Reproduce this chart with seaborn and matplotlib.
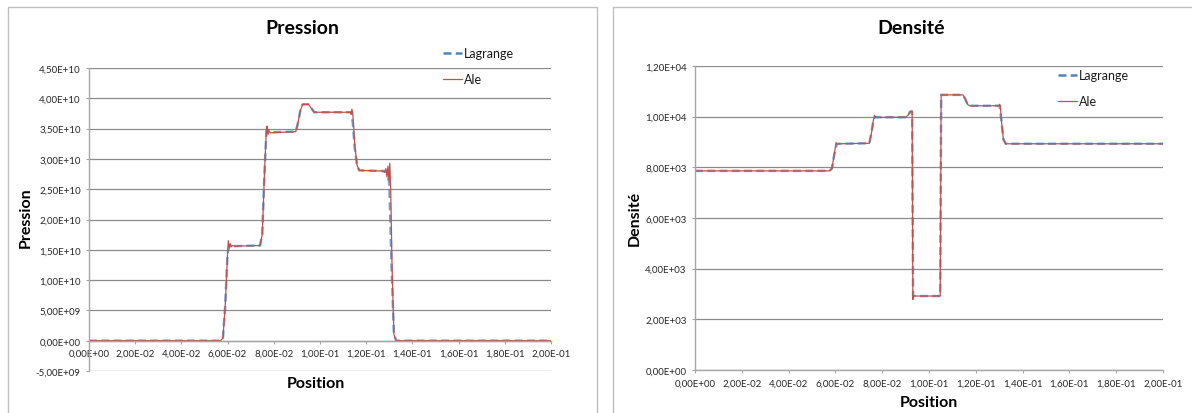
import matplotlib
matplotlib.use("Agg")
import matplotlib.pyplot as plt
import matplotlib.ticker as mticker
from matplotlib.patches import Rectangle
import seaborn as sns
import pandas as pd

# ---------------- data ----------------
# Pression (Pa), Lagrange
p_lag_x = [0.0, 0.0570, 0.0580, 0.0590, 0.0600, 0.0608, 0.0620, 0.0740, 0.0750, 0.0760,
           0.0768, 0.0780, 0.0895, 0.0905, 0.0915, 0.0925, 0.0950, 0.0960, 0.0975, 0.1135,
           0.1142, 0.1150, 0.1160, 0.1170, 0.1280, 0.1290, 0.1300, 0.1310, 0.1320, 0.1330, 0.2]
p_lag_y = [0.0, 0.0, 0.05e10, 0.6e10, 1.45e10, 1.57e10, 1.56e10, 1.57e10, 1.75e10, 2.8e10,
           3.45e10, 3.44e10, 3.45e10, 3.6e10, 3.8e10, 3.9e10, 3.9e10, 3.85e10, 3.77e10, 3.77e10,
           3.6e10, 3.2e10, 2.9e10, 2.81e10, 2.80e10, 2.78e10, 2.6e10, 1.2e10, 0.1e10, 0.0, 0.0]
# Pression (Pa), Ale
p_ale_x = [0.0, 0.0570, 0.0580, 0.0590, 0.0600, 0.0603, 0.0608, 0.0612, 0.0616, 0.0620,
           0.0630, 0.0740, 0.0750, 0.0760, 0.0768, 0.0771, 0.0775, 0.0779, 0.0785, 0.0895,
           0.0905, 0.0915, 0.0925, 0.0950, 0.0960, 0.0975, 0.1130, 0.1135, 0.1138, 0.1142,
           0.1150, 0.1160, 0.1170, 0.1270, 0.1280, 0.1285, 0.1290, 0.1294, 0.1298, 0.1302,
           0.1306, 0.1312, 0.1320, 0.1330, 0.2]
p_ale_y = [0.0, 0.0, 0.05e10, 0.6e10, 1.45e10, 1.65e10, 1.53e10, 1.60e10, 1.55e10, 1.57e10,
           1.56e10, 1.57e10, 1.75e10, 2.8e10, 3.50e10, 3.54e10, 3.40e10, 3.47e10, 3.43e10, 3.45e10,
           3.6e10, 3.8e10, 3.9e10, 3.9e10, 3.85e10, 3.77e10, 3.77e10, 3.74e10, 3.82e10, 3.75e10,
           3.25e10, 2.9e10, 2.81e10, 2.80e10, 2.78e10, 2.84e10, 2.70e10, 2.88e10, 2.65e10, 2.93e10,
           2.5e10, 1.2e10, 0.1e10, 0.0, 0.0]

# Densite, Lagrange
d_lag_x = [0.0, 0.0575, 0.0585, 0.0595, 0.0605, 0.0615, 0.0745, 0.0755, 0.0763, 0.0770,
           0.0900, 0.0910, 0.0920, 0.0928, 0.0932, 0.1048, 0.1052, 0.1145, 0.1155, 0.1165,
           0.1175, 0.1302, 0.1310, 0.1318, 0.1328, 0.2]
d_lag_y = [7860, 7860, 7950, 8500, 8900, 8930, 8950, 9400, 9900, 9980,
           9980, 10050, 10200, 10200, 2920, 2920, 10860, 10860, 10700, 10480,
           10430, 10430, 9800, 9100, 8930, 8930]
# Densite, Ale
d_ale_x = [0.0, 0.0575, 0.0585, 0.0595, 0.0603, 0.0608, 0.0615, 0.0745, 0.0755, 0.0763,
           0.0767, 0.0772, 0.0900, 0.0910, 0.0920, 0.0928, 0.0931, 0.0934, 0.0940, 0.1048,
           0.1052, 0.1145, 0.1155, 0.1165, 0.1175, 0.1298, 0.1302, 0.1305, 0.1310, 0.1318,
           0.1328, 0.2]
d_ale_y = [7860, 7860, 7950, 8500, 8980, 8920, 8930, 8950, 9400, 9900,
           10050, 9970, 9980, 10050, 10200, 10220, 2780, 2940, 2920, 2920,
           10860, 10860, 10700, 10480, 10430, 10430, 10490, 10400, 9800, 9100,
           8930, 8930]

p_yticks = [-5e9, 0, 5e9, 1e10, 1.5e10, 2e10, 2.5e10, 3e10, 3.5e10, 4e10, 4.5e10]
d_yticks = [0, 2000, 4000, 6000, 8000, 10000, 12000]
x_ticks = [0, 0.02, 0.04, 0.06, 0.08, 0.10, 0.12, 0.14, 0.16, 0.18, 0.20]

series_names = ["Lagrange", "Ale"]

# ---------------- style ----------------
sns.set_theme(style="white")
plt.rcParams['font.family'] = ['Lato', 'DejaVu Sans']

W, H = 1192, 414
fig = plt.figure(figsize=(W / 100, H / 100), dpi=100)

BLUE = "#4F81BD"
RED = "#C0504D"
GRID = "#8C8C8C"


def fx(px):
    return px / W


def fy(py):
    return 1 - py / H


def fmt(v, pos):
    return f"{v:.2E}".replace(".", ",")


# panel borders
fig.patches.append(Rectangle((fx(8), fy(420)), fx(597 - 8), (420 - 8) / H,
                             transform=fig.transFigure, fill=False,
                             edgecolor="#BFBFBF", lw=1.0))
fig.patches.append(Rectangle((fx(613), fy(420)), fx(1200 - 613), (420 - 8) / H,
                             transform=fig.transFigure, fill=False,
                             edgecolor="#BFBFBF", lw=1.0))

ax1 = fig.add_axes([fx(89), fy(372), fx(551 - 89), (372 - 69) / H])
ax2 = fig.add_axes([fx(695), fy(371), fx(1163 - 695), (371 - 67) / H])


def draw(ax, lx, ly, axx, axy):
    dfl = pd.DataFrame({"x": lx, "y": ly})
    dfa = pd.DataFrame({"x": axx, "y": axy})
    sns.lineplot(data=dfl, x="x", y="y", ax=ax, color=BLUE, lw=1.8,
                 linestyle=(0, (3.2, 1.7)), label=series_names[0],
                 estimator=None, sort=False, alpha=0.75)
    sns.lineplot(data=dfa, x="x", y="y", ax=ax, color=RED, lw=0.9,
                 label=series_names[1], estimator=None, sort=False)


draw(ax1, p_lag_x, p_lag_y, p_ale_x, p_ale_y)
draw(ax2, d_lag_x, d_lag_y, d_ale_x, d_ale_y)

for ax, yt in [(ax1, p_yticks), (ax2, d_yticks)]:
    ax.set_xlim(0, 0.2)
    ax.set_ylim(yt[0], yt[-1])
    ax.set_xticks(x_ticks)
    ax.set_yticks(yt)
    ax.xaxis.set_major_formatter(mticker.FuncFormatter(fmt))
    ax.yaxis.set_major_formatter(mticker.FuncFormatter(fmt))
    ax.grid(axis="y", color=GRID, lw=0.9)
    ax.grid(axis="x", visible=False)
    ax.set_axisbelow(True)
    for s in ["top", "right"]:
        ax.spines[s].set_visible(False)
    for s in ["left", "bottom"]:
        ax.spines[s].set_color("#A6A6A6")
        ax.spines[s].set_linewidth(1.0)
    ax.spines["bottom"].set_position(("data", 0))
    ax.tick_params(axis="both", which="major", direction="out", length=2.5,
                   width=0.8, color="#A6A6A6", labelsize=7, labelcolor="#262626",
                   pad=3.5, bottom=True, left=True)
    ax.set_xlabel("")
    ax.set_ylabel("")
    ax.set_facecolor("white")

leg1 = ax1.legend(loc="upper left", bbox_to_anchor=(fx(443), fy(48)),
                  bbox_transform=fig.transFigure, frameon=False, fontsize=9,
                  handlelength=1.5, handletextpad=0.2, labelspacing=1.15,
                  borderaxespad=0, borderpad=0)
leg2 = ax2.legend(loc="upper left", bbox_to_anchor=(fx(1058), fy(70)),
                  bbox_transform=fig.transFigure, frameon=False, fontsize=9,
                  handlelength=1.5, handletextpad=0.2, labelspacing=1.15,
                  borderaxespad=0, borderpad=0)
for leg in (leg1, leg2):
    for t in leg.get_texts():
        t.set_color("#1a1a1a")
    for h in leg.legend_handles:
        h.set_alpha(1.0)

# titles and axis labels
fig.text(fx(302), fy(29), "Pression", ha="center", va="center",
         fontsize=14, fontweight="bold", color="black")
fig.text(fx(911), fy(29), "Densité", ha="center", va="center",
         fontsize=14, fontweight="bold", color="black")
fig.text(fx(26), fy(218), "Pression", ha="center", va="center", rotation=90,
         fontsize=11.5, fontweight="bold", color="black")
fig.text(fx(635), fy(218), "Densité", ha="center", va="center", rotation=90,
         fontsize=11.5, fontweight="bold", color="black")
fig.text(fx(316), fy(384), "Position", ha="center", va="center",
         fontsize=11.5, fontweight="bold", color="black")
fig.text(fx(929), fy(403), "Position", ha="center", va="center",
         fontsize=11.5, fontweight="bold", color="black")

fig.savefig("out.png", dpi=100, facecolor="white")
